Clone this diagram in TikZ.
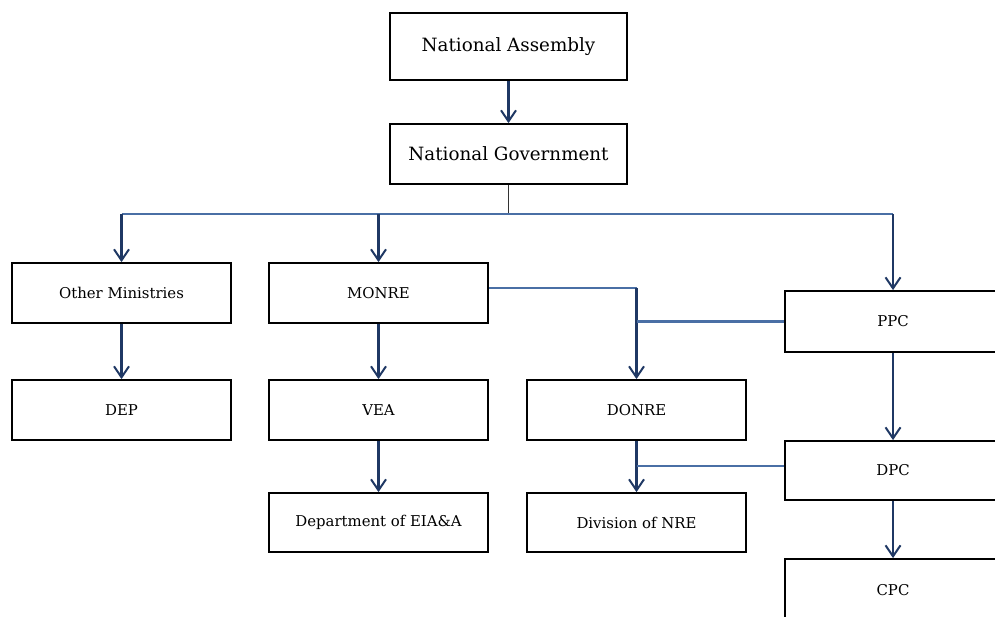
\documentclass[tikz,border=0pt]{standalone}
\usepackage{fontspec}
\setmainfont{DejaVu Serif}
\usetikzlibrary{arrows.meta}
\definecolor{navy}{HTML}{1F3864}
\definecolor{steel}{HTML}{4A6FA5}
\definecolor{stem}{HTML}{333333}
\tikzset{
  box/.style={draw=black, line width=1.8pt, fill=white, inner sep=0pt, font=\fontsize{14.9}{16}\selectfont},
  bigbox/.style={box, font=\fontsize{18.3}{20}\selectfont},
  arr/.style={draw=navy, line width=2.2pt, -{Straight Barb[length=11pt,width=15pt,line width=2pt]}},
  busline/.style={draw=steel, line width=2.4pt},
}
\begin{document}
\begin{tikzpicture}[x=1pt,y=-1pt]
\useasboundingbox (0,0) rectangle (995,617);
\clip (0,0) rectangle (995,617);
% nodes
\node[bigbox, minimum width=237pt, minimum height=67pt] (na) at (508.5,46.5) {National Assembly};
\node[bigbox, minimum width=237pt, minimum height=60pt] (ng) at (508.5,154) {National Government};
\node[box, minimum width=219pt, minimum height=60pt] (om) at (121.5,293) {Other Ministries};
\node[box, minimum width=219pt, minimum height=60pt] (monre) at (378.5,293) {MONRE};
\node[box, minimum width=219pt, minimum height=60pt] (dep) at (121.5,410) {DEP};
\node[box, minimum width=219pt, minimum height=60pt] (vea) at (378.5,410) {VEA};
\node[box, minimum width=219pt, minimum height=59pt] (eia) at (378.5,522.5) {Department of EIA\&A};
\node[box, minimum width=219pt, minimum height=60pt] (donre) at (636.5,410) {DONRE};
\node[box, minimum width=219pt, minimum height=59pt] (nre) at (636.5,522.5) {Division of NRE};
\node[box, minimum width=216pt, minimum height=61pt] (ppc) at (893,321.5) {PPC};
\node[box, minimum width=216pt, minimum height=59pt] (dpc) at (893,470.5) {DPC};
\node[box, minimum width=216pt, minimum height=62pt] (cpc) at (893,590) {CPC};
% connectors
\draw[arr] (na) -- (ng);
\draw[draw=stem, line width=1.8pt] (ng.south) -- ++(0,29) coordinate (bus);
\draw[busline] (om.north |- bus) -- (ppc.north |- bus);
\draw[arr] (om.north |- bus) -- (om.north);
\draw[arr] (monre.north |- bus) -- (monre.north);
\draw[arr] (ppc.north |- bus) -- (ppc.north);
\draw[arr] (om) -- (dep);
\draw[arr] (monre) -- (vea);
\draw[arr] (vea) -- (eia);
\path ([yshift=5pt]monre.east) coordinate (me);
\draw[busline] (me) -- (donre.north |- me) coordinate (j1);
\draw[arr] (j1) -- (donre.north);
\draw[busline] (ppc.west) -- (ppc.west -| donre.north);
\draw[arr] (ppc) -- (dpc);
\draw[arr] (donre) -- (nre);
\path ([yshift=4.5pt]dpc.west) coordinate (dw);
\draw[busline] (dw) -- (dw -| donre.south);
\draw[arr] (dpc) -- (cpc);
\end{tikzpicture}
\end{document}
